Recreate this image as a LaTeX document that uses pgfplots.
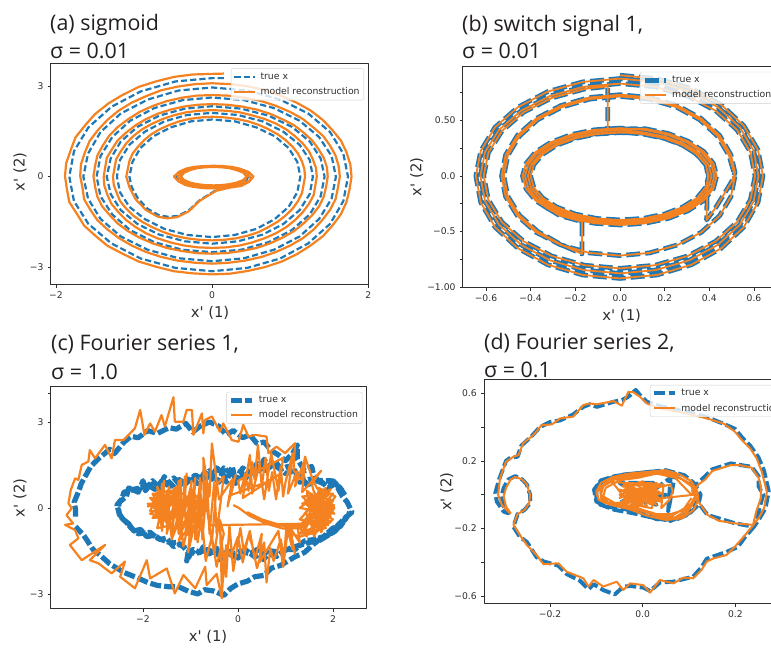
\documentclass[border=0pt]{standalone}
\usepackage{fontspec}
\usepackage{pgfplots}
\usepackage{pgfplotstable}
\pgfplotsset{compat=1.18}
\setmainfont{DejaVu Sans}
\newfontfamily\titlefont{Open Sans}
\newfontfamily\lblfont{DejaVu Sans}
\definecolor{mblue}{HTML}{1F78B6}
\definecolor{morange}{HTML}{F58220}
\definecolor{spine}{HTML}{2E2E2E}
\newcommand{\ttl}[1]{\fontsize{21.4}{24}\titlefont\color[HTML]{231F20}#1}
\newcommand{\lbl}[1]{\fontsize{14.8}{16}\lblfont\color{spine}#1}
\pgfplotsset{
  panel/.style={
    scale only axis, clip=true, axis line style={spine,line width=1pt},
    tick style={spine,line width=.7pt}, tick align=outside,
    major tick length=3.2pt, xtick pos=bottom, ytick pos=left,
    tick label style={font=\fontsize{9.2}{10}\selectfont,text=spine},
    xticklabel style={yshift=-.5pt}, yticklabel style={xshift=-.5pt},
    legend cell align=left,
    legend image code/.code={\draw[##1] (0pt,0pt) -- (21pt,0pt);\path (23pt,0pt);},
    legend style={font=\fontsize{9.3}{10}\selectfont, text=spine, fill=white, fill opacity=0.8, text opacity=1,
      draw=black!18, rounded corners=2pt, inner sep=2.2pt, row sep=2.6pt},
    line join=round,
  },
  ora/.style={morange,line width=2.2pt,line join=round},
}
\pgfplotstableread[row sep=\\]{
x y\\ 0 .905\\ .166 .874\\ .32 .784\\ .453 .64\\ .554 .453\\ .618 .234\\ .64 0\\
.618 -.238\\ .554 -.46\\ .453 -.65\\ .32 -.797\\ .166 -.889\\ 0 -.92\\
-.167 -.889\\ -.323 -.797\\ -.456 -.65\\ -.559 -.46\\ -.623 -.238\\ -.645 0\\
-.623 .226\\ -.559 .438\\ -.456 .619\\ -.323 .758\\ -.167 .845\\ 0 .875\\
.16 .845\\ .31 .758\\ .438 .619\\ .537 .438\\ .599 .226\\ .62 0\\
.599 -.226\\ .537 -.438\\ .438 -.619\\ .31 -.758\\ .16 -.845\\ 0 -.875\\
-.162 -.845\\ -.313 -.758\\ -.442 -.619\\ -.541 -.438\\ -.604 -.226\\ -.625 0\\
-.604 .215\\ -.541 .415\\ -.442 .587\\ -.313 .719\\ -.162 .802\\ 0 .83\\
.157 .802\\ .303 .719\\ .428 .587\\ .524 .415\\ .584 .215\\ .605 0\\
.584 -.215\\ .524 -.415\\ .428 -.587\\ .303 -.719\\ .157 -.802\\ 0 -.83\\
-.158 -.802\\ -.305 -.719\\ -.431 -.587\\ -.528 -.415\\ -.589 -.215\\ -.61 0\\
-.589 .21\\ -.528 .405\\ -.431 .573\\ -.305 .701\\ -.158 .782\\ -.055 .805\\ -.055 .42\\
.112 .425\\ .217 .381\\ .306 .311\\ .375 .22\\ .418 .114\\ .433 0\\
.418 -.114\\ .375 -.22\\ .306 -.311\\ .217 -.381\\ .112 -.425\\ 0 -.44\\
-.113 -.425\\ -.218 -.381\\ -.308 -.311\\ -.378 -.22\\ -.421 -.114\\ -.436 0\\
-.421 .111\\ -.378 .215\\ -.308 .304\\ -.218 .372\\ -.113 .415\\ 0 .43\\
.109 .415\\ .211 .372\\ .298 .304\\ .365 .215\\ .408 .111\\ .422 0\\
.408 -.11\\ .365 -.213\\ .298 -.3\\ .211 -.368\\ .109 -.41\\ 0 -.425\\
-.11 -.41\\ -.213 -.368\\ -.3 -.3\\ -.368 -.213\\ -.41 -.11\\ -.425 0\\
-.41 .107\\ -.368 .208\\ -.3 .293\\ -.213 .359\\ -.11 .401\\ 0 .415\\
.106 .391\\ .205 .351\\ .29 .286\\ .355 .203\\ .396 .105\\ .41 0\\
.396 -.106\\ .355 -.205\\ .29 -.29\\ .205 -.355\\ .106 -.396\\ 0 -.41\\
-.107 -.396\\ -.206 -.355\\ -.291 -.29\\ -.357 -.205\\ -.398 -.106\\ -.412 0\\
-.398 .102\\ -.357 .198\\ -.291 .279\\ -.206 .342\\ -.107 .382\\ 0 .395\\
.103 .377\\ .199 .338\\ .281 .276\\ .345 .195\\ .384 .101\\ .398 0\\
.384 -.102\\ .345 -.198\\ .281 -.279\\ .199 -.342\\ .103 -.382\\ 0 -.395\\
-.104 -.382\\ -.2 -.342\\ -.283 -.279\\ -.346 -.198\\ -.386 -.102\\ -.40 0\\
-.386 .101\\ -.346 .195\\ -.283 .276\\ -.2 .338\\ -.104 .377\\ 0 .39\\
.103 .385\\ .2 .34\\ .28 .28\\ .34 .2\\ .385 .1\\ .395 0\\ .39 -.1\\ .39 -.2\\ .388 -.395\\ .43 -.28\\ .47 -.15\\ .50 -.05\\ .515 .03\\
.497 .189\\ .446 .365\\ .364 .516\\ .258 .632\\ .133 .705\\ 0 .73\\
-.137 .705\\ -.265 .632\\ -.375 .516\\ -.459 .365\\ -.512 .189\\ -.53 0\\
-.512 -.185\\ -.459 -.358\\ -.375 -.506\\ -.265 -.619\\ -.137 -.691\\ 0 -.715\\
.133 -.691\\ .258 -.619\\ .364 -.506\\ .446 -.358\\ .497 -.185\\ .515 0\\
.488 .185\\ .437 .358\\ .357 .506\\ .253 .619\\ .131 .691\\ 0 .715\\
-.135 .691\\ -.26 .619\\ -.368 .506\\ -.45 .358\\ -.502 .185\\ -.52 0\\
-.502 -.183\\ -.45 -.353\\ -.368 -.499\\ -.26 -.62\\ -.17 -.70\\ -.17 -.41\\ -.27 -.355\\ -.34 -.27\\
}\ringdata
\begin{document}
\begin{tikzpicture}[x=1pt,y=1pt]
% ---------- (a)
\begin{axis}[panel, at={(50.7pt,-284.3pt)}, anchor=south west, width=317.6pt, height=221pt,
  xmin=-2.068, xmax=2.0, ymin=-3.563, ymax=3.75,
  xtick={-2,0,2}, xticklabels={−2,0,2}, ytick={-3,0,3}, yticklabels={−3,0,3},
  legend style={at={(0.9865,0.977)},anchor=north east}]
\addplot[mblue,line width=2.2pt,dash pattern=on 6.2pt off 3pt] coordinates {
(.15,3.26)(0,3.26)(-.47,3.15)(-.915,2.82)(-1.29,2.31)(-1.585,1.63)(-1.77,.84)(-1.83,0)
(-1.77,-.81)(-1.585,-1.565)(-1.29,-2.21)(-.915,-2.71)(-.47,-3.02)(0,-3.13)
(.45,-3.02)(.87,-2.71)(1.23,-2.21)(1.51,-1.565)(1.68,-.81)(1.74,0)
(1.68,.76)(1.51,1.475)(1.23,2.09)(.87,2.55)(.45,2.85)(0,2.95)
(-.43,2.85)(-.825,2.55)(-1.17,2.09)(-1.43,1.475)(-1.59,.76)(-1.65,0)
(-1.59,-.725)(-1.43,-1.40)(-1.17,-1.98)(-.825,-2.42)(-.43,-2.70)(0,-2.80)
(.41,-2.70)(.79,-2.42)(1.12,-1.98)(1.37,-1.40)(1.53,-.725)(1.585,0)
(1.53,.68)(1.37,1.31)(1.12,1.85)(.79,2.27)(.41,2.53)(0,2.62)
(-.38,2.53)(-.74,2.27)(-1.05,1.85)(-1.28,1.31)(-1.43,.68)(-1.48,0)
(-1.43,-.65)(-1.28,-1.25)(-1.05,-1.77)(-.74,-2.17)(-.38,-2.42)(0,-2.50)
(.37,-2.42)(.72,-2.17)(1.02,-1.77)(1.25,-1.25)(1.39,-.65)(1.44,0)
(1.39,.60)(1.25,1.165)(1.02,1.65)(.72,2.02)(.37,2.25)(0,2.33)
(-.35,2.25)(-.675,2.02)(-.955,1.65)(-1.17,1.165)(-1.30,.60)(-1.35,0)
(-1.30,-.575)(-1.17,-1.11)(-.955,-1.57)(-.675,-1.92)(-.35,-2.14)(0,-2.22)
(.33,-2.14)(.645,-1.92)(.91,-1.57)(1.12,-1.11)(1.25,-.575)(1.29,0)
(1.25,.55)(1.12,1.055)(.91,1.49)(.645,1.83)(.33,2.04)(0,2.11)
(-.32,2.04)(-.61,1.83)(-.86,1.49)(-1.06,1.055)(-1.18,.55)(-1.22,0)
(-1.18,-.52)(-1.06,-1.0)(-.86,-1.41)(-.61,-1.73)(-.32,-1.93)(0,-2.0)
(.29,-1.93)(.565,-1.73)(.80,-1.41)(.98,-1.0)(1.09,-.52)(1.13,0)
(1.09,.49)(.98,.945)(.80,1.34)(.565,1.63)(.29,1.83)(0,1.89)
(-.27,1.83)(-.53,1.63)(-.75,1.34)(-.92,.945)(-1.02,.49)(-1.06,0)
(-1.03,-.35)(-.95,-.72)(-.83,-1.06)(-.68,-1.28)(-.56,-1.33)(-.44,-1.30)(-.3,-1.12)(-.16,-.78)(.05,-.45)(.23,-.34)
(.35,-.29)(.44,-.12)(.46,0)(.44,.12)(.33,.25)(.16,.32)(0,.33)(-.16,.32)(-.33,.25)(-.44,.12)(-.46,0)(-.44,-.12)(-.33,-.25)(-.16,-.32)(0,-.33)(.16,-.32)(.33,-.25)(.44,-.12)(.46,0)};
\addlegendentry{true x}
\addplot[ora] coordinates {
(.15,3.41)(0,3.40)(-.25,3.38)(-.49,3.30)(-.72,3.15)(-.94,2.97)(-1.15,2.70)(-1.33,2.42)(-1.50,2.07)(-1.62,1.72)(-1.75,1.30)(-1.81,.89)(-1.87,.44)(-1.885,.02)
(-1.86,-.42)(-1.83,-.84)(-1.73,-1.24)(-1.64,-1.62)(-1.49,-1.97)(-1.34,-2.29)(-1.14,-2.56)(-.94,-2.81)(-.72,-2.98)(-.49,-3.13)(-.25,-3.20)(0,-3.235)
(.23,-3.21)(.46,-3.12)(.68,-2.99)(.89,-2.81)(1.09,-2.56)(1.26,-2.28)(1.42,-1.97)(1.54,-1.62)(1.65,-1.24)(1.72,-.84)(1.76,-.42)(1.785,0)
(1.77,.40)(1.72,.81)(1.65,1.19)(1.54,1.54)(1.42,1.87)(1.26,2.19)(1.08,2.45)(.89,2.67)(.68,2.86)(.46,2.99)(.23,3.06)(0,3.09)
(-.22,3.06)(-.44,2.98)(-.65,2.86)(-.84,2.67)(-1.03,2.45)(-1.20,2.18)(-1.34,1.88)(-1.46,1.55)(-1.57,1.18)(-1.63,.80)(-1.68,.41)(-1.69,.02)
(-1.66,-.38)(-1.64,-.75)(-1.56,-1.10)(-1.47,-1.44)(-1.34,-1.75)(-1.19,-2.04)(-1.03,-2.28)(-.85,-2.49)(-.65,-2.66)(-.44,-2.78)(-.22,-2.85)(0,-2.88)
(.21,-2.85)(.42,-2.78)(.63,-2.66)(.82,-2.49)(1.0,-2.28)(1.16,-2.04)(1.30,-1.75)(1.41,-1.44)(1.51,-1.10)(1.58,-.75)(1.61,-.38)(1.635,0)
(1.62,.35)(1.58,.70)(1.51,1.03)(1.42,1.35)(1.29,1.64)(1.16,1.91)(1.0,2.14)(.82,2.34)(.63,2.50)(.42,2.61)(.21,2.68)(0,2.70)
(-.20,2.68)(-.39,2.61)(-.58,2.50)(-.76,2.34)(-.93,2.14)(-1.07,1.91)(-1.21,1.64)(-1.32,1.35)(-1.40,1.03)(-1.47,.70)(-1.50,.35)(-1.52,.02)
(-1.50,-.33)(-1.47,-.66)(-1.41,-.98)(-1.31,-1.28)(-1.21,-1.55)(-1.08,-1.80)(-.93,-2.02)(-.76,-2.21)(-.58,-2.36)(-.39,-2.46)(-.20,-2.53)(0,-2.55)
(.19,-2.53)(.38,-2.46)(.57,-2.36)(.74,-2.21)(.90,-2.02)(1.05,-1.80)(1.17,-1.55)(1.28,-1.28)(1.37,-.98)(1.43,-.66)(1.46,-.33)(1.48,0)
(1.47,.31)(1.43,.62)(1.36,.92)(1.28,1.20)(1.17,1.46)(1.05,1.70)(.90,1.90)(.74,2.08)(.57,2.22)(.38,2.32)(.19,2.38)(0,2.40)
(-.18,2.38)(-.36,2.32)(-.53,2.22)(-.70,2.08)(-.85,1.90)(-.98,1.70)(-1.10,1.46)(-1.21,1.20)(-1.28,.92)(-1.35,.62)(-1.37,.31)(-1.39,0)
(-1.38,-.31)(-1.34,-.61)(-1.29,-.90)(-1.20,-1.18)(-1.10,-1.44)(-.98,-1.67)(-.85,-1.87)(-.70,-2.04)(-.53,-2.18)(-.36,-2.28)(-.18,-2.34)(0,-2.36)
(.18,-2.34)(.35,-2.28)(.51,-2.18)(.67,-2.04)(.82,-1.87)(.95,-1.67)(1.06,-1.44)(1.16,-1.18)(1.24,-.90)(1.30,-.61)(1.32,-.31)(1.34,0)
(1.33,.29)(1.29,.57)(1.24,.84)(1.16,1.10)(1.06,1.34)(.95,1.56)(.82,1.75)(.67,1.91)(.51,2.03)(.35,2.13)(.18,2.18)(0,2.20)
(-.17,2.18)(-.33,2.13)(-.49,2.03)(-.63,1.91)(-.77,1.75)(-.90,1.56)(-1.01,1.34)(-1.10,1.10)(-1.17,.84)(-1.23,.57)(-1.25,.29)(-1.27,0)
(-1.26,-.28)(-1.22,-.55)(-1.18,-.81)(-1.10,-1.06)(-1.01,-1.29)(-.90,-1.49)(-.77,-1.67)(-.63,-1.83)(-.49,-1.95)(-.33,-2.04)(-.17,-2.09)(0,-2.11)
(.16,-2.09)(.31,-2.04)(.46,-1.95)(.60,-1.83)(.72,-1.67)(.84,-1.49)(.94,-1.29)(1.03,-1.06)(1.10,-.81)(1.15,-.55)(1.17,-.28)(1.19,0)
(1.18,.26)(1.15,.51)(1.10,.76)(1.03,.99)(.94,1.21)(.84,1.40)(.72,1.57)(.60,1.71)(.46,1.83)(.31,1.91)(.16,1.96)(0,1.98)
(-.14,1.96)(-.29,1.91)(-.42,1.83)(-.55,1.71)(-.67,1.57)(-.78,1.40)(-.87,1.21)(-.95,.99)(-1.02,.76)(-1.06,.51)(-1.08,.26)(-1.10,0)
(-1.06,-.35)(-.98,-.75)(-.85,-1.1)(-.7,-1.32)(-.58,-1.38)(-.45,-1.34)(-.3,-1.15)(-.16,-.8)(.05,-.47)(.23,-.36)
(.37,-.31)(.47,-.18)(.53,0)(.47,.15)(.36,.26)(.26,.32)(.13,.35)(.02,.36)(-.11,.35)(-.24,.32)(-.34,.26)(-.43,.15)(-.49,0)(-.43,-.16)(-.34,-.28)(-.24,-.34)(-.11,-.38)(.02,-.39)(.15,-.38)(.28,-.34)(.38,-.27)(.47,-.16)
(.50,-.05)(.48,0)(.44,.14)(.34,.25)(.25,.30)(.14,.33)(.02,.34)(-.10,.33)(-.21,.30)(-.31,.25)(-.39,.14)(-.44,0)(-.39,-.13)(-.31,-.23)(-.21,-.29)(-.10,-.33)(.02,-.34)(.14,-.33)(.25,-.29)(.34,-.23)(.42,-.13)
(.44,0)(.40,.13)(.31,.22)(.22,.28)(.12,.31)(.02,.32)(-.09,.31)(-.19,.28)(-.28,.22)(-.36,.13)(-.40,0)(-.36,-.11)(-.28,-.2)(-.19,-.25)(-.09,-.28)(.02,-.29)(.12,-.28)(.22,-.25)(.31,-.2)(.40,-.11)(.44,0)};
\addlegendentry{model reconstruction}
\end{axis}
% ---------- (b)
\begin{axis}[panel, at={(462.7pt,-287.3pt)}, anchor=south west, width=315.3pt, height=221.3pt,
  xmin=-.704, xmax=.7076, ymin=-1.0, ymax=.988,
  xtick={-.6,-.4,-.2,0,.2,.4,.6}, xticklabels={−0.6,−0.4,−0.2,0.0,0.2,0.4,0.6},
  ytick={-1,-.75,-.5,-.25,0,.25,.5,.75}, yticklabels={−1.00,,−0.5,,0.0,,0.50,},
  legend style={at={(0.5623,0.974)},anchor=north west}]
\addplot[mblue,line width=4.8pt,dash pattern=on 14pt off 5pt] table[x=x,y=y]{\ringdata};
\addlegendentry{true x}
\addplot[morange,line width=1.8pt,line join=round] table[x=x,y=y]{\ringdata};
\addlegendentry{model reconstruction}
\end{axis}
% ---------- (c)
\begin{axis}[panel, at={(50.7pt,-608.3pt)}, anchor=south west, width=316pt, height=221.6pt,
  xmin=-3.943, xmax=2.709, ymin=-3.5, ymax=4.23,
  xtick={-2,0,2}, xticklabels={−2,0,2}, ytick={-3,0,3,4}, yticklabels={−3,0,3,},
  legend style={at={(0.9865,0.977)},anchor=north east}]
\addplot[mblue,line width=5.2pt,dash pattern=on 11pt off 2.5pt,forget plot] coordinates {
(2.25,.45)(2.15,.7)(2.0,.95)(1.8,.85)(1.66,.95)(1.45,.8)(1.35,1.1)(1.16,1.15)(1.05,1.45)(.9,1.35)(.8,1.6)(.65,1.4)(.55,1.7)(.45,1.3)(.3,1.45)(.15,1.0)(.05,1.3)(-.05,.85)(-.12,1.45)(-.25,.9)(-.32,1.2)(-.45,1.4)(-.55,1.0)(-.7,1.25)(-.85,.85)(-1.0,1.1)(-1.2,.75)(-1.35,1.05)(-1.5,.8)(-1.55,1.1)(-1.65,.7)(-1.8,.95)(-1.95,.6)(-2.0,.95)(-2.1,.55)(-2.3,.7)(-2.35,.4)(-2.5,.2)(-2.52,0)(-2.5,-.2)
(-2.42,-.4)(-2.3,-.55)(-2.2,-.8)(-2.05,-.75)(-1.92,-1.0)(-1.75,-.95)(-1.64,-1.1)(-1.5,-1.05)(-1.36,-1.35)(-1.2,-1.25)(-1.05,-1.55)(-1.08,-1.85)(-.95,-1.45)(-.8,-1.55)(-.73,-1.35)(-.6,-1.6)(-.45,-1.4)(-.38,-1.8)(-.25,-1.5)(-.1,-1.7)(.05,-1.5)(.25,-1.6)(.4,-1.45)(.53,-1.8)(.7,-1.5)(.9,-1.55)(1.1,-1.4)(1.3,-1.3)(1.5,-1.2)(1.7,-1.15)(1.9,-.95)(2.05,-.8)(2.2,-.5)(2.35,-.15)};
\addplot[mblue,line width=5.2pt,dash pattern=on 9pt off 2pt,forget plot] coordinates {
(2.2,.6)(2.05,.85)(1.9,.7)(1.7,1.0)(1.5,1.0)(1.3,.9)(1.2,1.3)(1.0,1.2)(.85,1.4)(.7,1.55)(.6,1.3)(.4,1.55)(.25,1.15)(.1,1.4)(0,1.0)(-.15,1.2)(-.3,1.4)(-.4,.9)(-.6,1.3)(-.75,1.0)(-.9,1.15)(-1.1,.85)(-1.25,1.0)(-1.4,.75)(-1.6,.95)(-1.75,.65)(-1.9,.8)(-2.05,.7)(-2.2,.65)(-2.4,.55)(-2.45,.3)(-2.55,.1)
(-2.48,-.3)(-2.35,-.5)(-2.25,-.7)(-2.1,-.9)(-1.85,-.85)(-1.7,-1.05)(-1.45,-1.2)(-1.3,-1.2)(-1.1,-1.4)(-.9,-1.6)(-.65,-1.45)(-.5,-1.55)(-.3,-1.7)(-.15,-1.5)(0,-1.75)(.15,-1.45)(.35,-1.7)(.6,-1.55)(.8,-1.7)(1.0,-1.45)(1.2,-1.45)(1.4,-1.15)(1.6,-1.1)(1.8,-1.0)(2.0,-.7)(2.15,-.65)(2.3,-.3)};
\addplot[mblue,line width=5.2pt,dash pattern=on 11pt off 3pt] coordinates {
(-3.42,-.3)(-3.42,-.05)(-3.45,.2)(-3.35,.6)(-3.3,.85)(-3.1,1.45)(-2.95,1.7)(-2.7,2.05)(-2.6,1.9)(-2.4,2.3)(-2.25,2.5)(-2.1,2.45)(-1.9,2.7)(-1.7,2.6)(-1.45,2.8)(-1.3,2.75)(-1.1,2.95)(-.95,2.65)(-.8,2.85)(-.6,3.0)(-.4,2.85)(-.25,2.55)(-.1,2.7)(.1,2.45)(.25,2.55)(.4,2.25)(.55,2.3)(.7,2.0)(.85,1.85)(1.0,1.65)(1.15,1.9)(1.25,2.2)(1.25,1.7)(1.4,1.3)(1.55,1.45)(1.6,1.1)(1.7,.95)(1.95,.95)(2.1,.7)(2.2,.4)(2.3,.2)(2.4,-.15)(2.25,-.35)(2.1,-.6)(2.0,-.85)(1.75,-1.05)(1.6,-1.25)(1.4,-1.55)(1.2,-1.7)(1.05,-1.85)(.9,-2.0)(.7,-2.1)(.55,-2.35)(.35,-2.4)(.2,-2.55)(0,-2.65)(-.15,-2.8)(-.3,-3.05)(-.5,-2.9)(-.7,-2.85)(-.85,-3.0)(-1.05,-2.9)(-1.25,-2.75)(-1.45,-2.75)(-1.7,-2.7)(-1.9,-2.6)(-2.1,-2.45)(-2.4,-2.25)(-2.7,-1.95)(-2.9,-1.65)(-3.05,-1.45)(-3.25,-.95)(-3.42,-.65)};
\addlegendentry{true x}
\addplot[morange,line width=2.2pt,line join=round] coordinates {
(-.1,.1)(0,.02)(.25,-.28)(.6,-.55)(.95,-.72)(1.3,-.7)(1.45,-.6)(1.1,-.62)(.8,-.55)(.5,-.4)(.2,-.15)(.3,-.25)(.7,-.55)(1.1,-.66)(1.4,-.55)(1.65,-.3)
(1.9,.3)(1.3,-.6)(1.95,-.3)(1.4,.3)(2.0,0)(1.5,-.8)(2.05,.4)(1.7,.7)(1.6,-.9)(2.0,-.4)(1.45,.1)(1.85,.6)(1.3,-.4)(1.9,-.6)(1.55,.5)(1.75,-.85)(2.02,.1)(1.35,.15)(1.95,.65)(1.5,-.5)(1.8,.2)(1.6,-.2)(1.95,-.1)(1.45,.45)(1.7,-.6)(1.85,-.2)(1.55,.05)(1.9,.45)(1.65,.35)(1.8,-.45)(1.4,-.2)(1.75,.5)(1.6,-.7)(2.0,.25)(1.7,.1)(1.5,.3)(1.85,-.7)
(1.3,-.9)(2.0,.5)(1.35,.4)(1.95,-.5)(1.4,-.8)(1.85,.7)(1.3,0)(2.03,-.2)(1.45,.6)(1.6,-1.0)(1.95,.3)(1.5,-.3)(1.9,.1)(1.4,-.45)(1.8,.55)(1.7,-.5)(2.0,-.15)(1.6,.55)
(1.55,.85)(1.75,1.3)(1.35,.55)(1.42,1.75)(1.2,.75)(1.25,1.3)(1.05,.5)(1.15,1.9)(1.0,.9)(.95,.4)(.9,1.45)(.8,.3)(.72,1.25)(.65,.6)(.58,1.75)(.5,.75)(.42,2.2)(.35,1.0)(.3,1.6)(.22,.6)(.15,1.2)(.05,.5)(0,.95)
(.95,1.75)(.85,.6)(.7,1.9)(.55,.3)(.45,1.5)(.3,.5)(.25,1.85)(.1,.35)(.9,1.2)(.6,.9)(-.15,.45)(-.05,1.15)(-.22,.05)
(-.12,1.0)(-.4,.3)(-.55,2.25)(-.6,.4)(-.73,1.75)(-.72,-.3)(-.65,1.2)(-.82,-.7)(-.78,.9)(-.95,-.5)(-.9,1.05)(-1.05,-.95)(-1.0,.7)(-1.15,-.3)(-1.08,1.2)(-1.22,-.8)(-1.2,1.0)(-1.3,-.2)(-1.28,.6)(-1.15,-1.35)(-.95,.2)(-.85,-1.2)(-.7,.5)(-.55,-1.2)(-.45,.8)
(-.3,1.1)(-.45,-.9)(-.5,.9)(-.6,-.9)(-.65,.9)(-.75,-1.1)(-.8,1.05)(-.88,-1.0)(-.92,.8)(-1.0,-1.2)(-.98,.95)(-1.1,-.9)(-1.12,1.1)(-1.18,-.5)(-1.25,.95)(-1.3,-.7)(-1.2,.3)(-1.1,-.3)(-1.35,.7)
(-.65,-.1)(-.95,.55)(-1.25,-.5)(-1.05,.3)(-1.4,-1.1)(-1.3,.5)(-1.5,-.9)(-1.45,.75)(-1.62,-.6)(-1.55,.95)(-1.75,-.3)(-1.4,.2)(-1.85,.35)(-1.5,-.3)(-1.8,-.35)(-1.35,.45)(-1.9,.05)(-1.55,.45)(-1.7,-.7)(-1.4,-.6)(-1.65,.6)(-1.85,-.1)(-1.45,-.15)(-1.7,.2)(-1.3,-.3)(-1.6,-.45)(-1.25,.65)(-1.75,.5)(-1.55,.1)(-1.35,-.85)(-1.2,.1)
(-1.9,.15)(-1.4,-.4)(-1.85,-.2)(-1.3,.35)(-1.8,.5)(-1.45,-.7)(-1.6,.85)(-1.65,-.5)(-1.75,.1)(-1.35,.6)(-1.5,-.15)(-1.7,.75)(-1.6,-.8)(-1.5,.6)(-1.4,-1.0)(-1.3,.75)(-1.25,-.9)
(-1.1,-.4)(-1.25,-1.15)(-1.0,-.6)(-1.05,-1.55)(-.9,-.45)(-.9,-1.1)(-.75,-.55)(-.68,-1.85)(-.55,-1.0)(-.45,-2.05)(-.3,-.9)(-.38,-.42)(-.34,-2.9)(-.25,-1.3)(-.15,-1.7)(0,-1.0)(.1,-1.9)(.22,-.95)(.3,-1.3)(.4,-2.1)(.55,-1.2)(.6,-2.6)(.68,-1.4)(.75,-1.85)(.9,-1.1)(.97,-1.75)(1.02,-.6)(1.15,-1.45)(1.1,-.7)(1.3,-1.2)(1.25,-.6)(1.45,-1.0)(1.4,-.55)
(-.6,-.6)(-.5,-1.6)(-.4,-.5)(-.25,-2.4)(-.18,-.6)(-.1,-2.2)(.05,-.7)(.12,-1.5)(.25,-.8)(.35,-1.8)(.5,-.9)(.45,-1.9)(.85,-.8)(.95,-2.05)(1.05,-.75)(1.2,-1.6)(1.12,-.9)(1.3,-1.0)(1.65,-.85)(1.5,-.5)
(1.8,-.5)(2.03,0)(1.85,.35)(1.65,.72)(1.55,1.1)(1.41,1.79)(1.34,.98)(1.17,1.32)(1.2,2.26)(.99,1.91)(.81,2.14)(.64,1.91)(.6,2.49)(.36,2.55)(.22,2.49)(.11,2.9)(.01,2.31)(-.13,2.37)(-.31,2.95)(-.38,2.66)(-.55,3.19)(-.695,3.07)(-.73,2.6)(-.76,3.3)(-.94,2.55)(-.97,3.42)(-1.08,3.42)(-1.15,3.01)(-1.33,3.01)(-1.36,3.86)(-1.54,2.84)(-1.61,3.24)(-1.75,2.66)(-1.85,2.95)(-1.97,2.55)(-2.06,3.42)(-2.17,2.78)(-2.41,2.37)(-2.59,2.37)(-2.66,1.73)(-2.80,2.2)(-3.01,1.73)(-3.12,2.02)(-3.15,1.62)(-3.29,1.5)(-3.36,.98)(-3.43,1.03)(-3.52,.63)(-3.57,.16)(-3.50,-.01)(-3.61,-.25)(-3.47,-.54)(-3.64,-.59)(-3.43,-.77)(-3.36,-1.06)(-3.54,-1.29)(-3.29,-1.82)(-2.80,-1.29)(-3.12,-1.82)(-2.94,-1.93)(-2.66,-2.28)(-2.38,-1.87)(-2.48,-2.4)(-2.17,-2.8)(-1.92,-1.82)(-1.85,-2.46)(-1.5,-2.11)(-1.33,-2.98)(-1.15,-2.34)(-.9,-2.8)(-.69,-2.05)(-.66,-2.69)(-.45,-2.3)(-.34,-3.15)(-.3,-1.75)};
\addlegendentry{model reconstruction}
\end{axis}
% ---------- (d)
\begin{axis}[panel, at={(484pt,-603.3pt)}, anchor=south west, width=294pt, height=224pt,
  xmin=-.3425, xmax=.292, ymin=-.643, ymax=.683,
  xtick={-.2,0,.2}, xticklabels={−0.2,0.0,0.2},
  ytick={-.6,-.4,-.2,0,.2,.4,.6}, yticklabels={−0.6,,−0.2,,0.2,,0.6},
  legend style={at={(0.5646,0.9746)},anchor=north west}]
\addplot[mblue,line width=4pt,dash pattern=on 11pt off 3.5pt] coordinates {
(-.04,.02)(.03,-.06)(-.05,.07)(.03,.07)(-.05,-.05)(.05,0)(-.03,-.08)(.06,.10)(.055,-.1)(.07,.125)(.03,.14)(-.02,.125)(-.06,.11)(-.09,.085)(-.105,.03)(-.10,-.04)(-.08,-.07)(-.05,-.08)(-.01,-.10)(.03,-.145)(.07,-.15)(.10,-.115)(.12,-.06)(.125,0)(.11,.07)(.09,.115)(.05,.145)(0,.13)(-.04,.12)(-.08,.09)(-.10,.05)
(-.1,-.05)(-.06,-.09)(-.02,-.11)(.02,-.135)(.06,-.155)(.1,-.11)(.115,-.03)(.14,-.12)(.2,-.17)(.24,-.19)(.221,-.25)(.205,-.31)(.18,-.34)(.153,-.365)(.138,-.38)(.127,-.43)(.109,-.485)(.088,-.5)(.066,-.515)(.037,-.52)(.016,-.57)(.001,-.55)(-.027,-.54)(-.042,-.545)(-.06,-.59)(-.085,-.565)(-.106,-.53)(-.117,-.56)(-.135,-.51)(-.164,-.47)(-.182,-.42)(-.214,-.395)(-.229,-.37)(-.25,-.28)(-.265,-.25)(-.279,-.19)(-.27,-.115)(-.255,-.09)(-.243,-.05)(-.243,0)(-.25,.06)(-.26,.09)(-.275,.11)(-.29,.09)(-.30,.04)(-.305,-.01)(-.30,-.07)(-.29,-.11)(-.30,-.10)(-.315,-.04)(-.318,.01)(-.31,.09)(-.295,.2)(-.285,.22)(-.27,.225)(-.262,.29)(-.24,.345)(-.222,.40)(-.2,.43)(-.178,.44)(-.15,.475)(-.128,.52)(-.114,.535)(-.099,.52)(-.063,.55)(-.045,.56)(-.031,.58)(-.015,.62)(-.006,.59)(.009,.55)(.037,.525)(.095,.49)(.138,.46)(.174,.42)(.199,.39)(.214,.34)(.232,.29)(.25,.22)(.262,.14)(.272,.02)(.265,-.08)(.25,-.15)(.24,-.19)(.25,-.1)(.26,0)(.25,.05)(.25,.11)(.235,.165)(.19,.185)(.15,.15)(.12,.07)(.105,0)};
\addlegendentry{true x}
\addplot[morange,line width=2pt,line join=round] coordinates {
(-.02,.01)(.03,-.06)(-.04,.06)(.02,.07)(-.045,-.04)(.035,.02)(-.03,-.07)(.03,.06)(-.05,0)(.01,-.075)(-.01,.075)(.04,-.03)(-.05,.03)(.02,-.06)(-.03,.07)(.035,.05)(-.04,-.05)(.03,-.02)(-.02,.07)(-.05,-.02)(.03,.07)(.02,-.08)(-.02,-.06)(.04,.01)(-.045,.05)(.01,.06)(-.01,-.07)(.03,.04)(-.04,-.02)(.04,-.04)(0,.08)
(-.04,.03)(.03,.03)(-.04,-.03)(.03,-.04)(-.02,.04)(.02,0)(-.03,0)(.02,.05)(0,-.05)(-.02,-.03)(.01,.03)
(.06,.06)(.065,.02)(.058,-.03)(.04,-.08)(.045,.06)
(-.04,.07)(-.07,.075)(-.09,.05)(-.1,.01)(-.095,-.03)(-.08,-.05)(-.05,-.055)(-.03,-.05)(-.07,.09)(-.04,.105)(0,.115)(.04,.125)(.07,.11)(.09,.085)(.105,.05)(.115,0)(.105,-.05)(.09,-.09)(.06,-.115)(.03,-.115)(0,-.09)(-.03,-.065)(-.06,-.05)
(.112,0)(.105,.05)(.085,.09)(.06,.12)(.02,.135)(-.02,.115)(-.055,.10)(-.08,.07)(-.092,.03)(-.09,-.02)(-.08,-.05)(-.05,-.06)(-.02,-.075)(.01,-.10)(.04,-.13)(.07,-.135)(.095,-.09)(.11,-.04)
(.118,.02)(.105,.08)(.08,.12)(.05,.145)(.01,.135)(-.03,.125)(-.065,.105)(-.09,.07)(-.1,.02)(-.095,-.03)(-.07,-.06)(-.03,-.085)(.01,-.125)(.05,-.15)(.085,-.14)(.11,-.09)(.12,-.03)
(.118,.02)(.10,.07)(.07,.115)(.04,.14)(0,.12)(-.03,.10)(-.06,.09)(-.085,.05)(-.09,0)(-.075,-.045)(-.045,-.065)(-.01,-.09)(.025,-.12)(.06,-.145)(.09,-.12)(.105,-.07)(.115,-.02)
(.14,-.12)(.165,-.155)(.2,-.17)(.239,-.179)(.221,-.239)(.199,-.308)(.181,-.357)(.153,-.377)(.138,-.396)(.127,-.446)(.109,-.495)(.088,-.491)(.066,-.525)(.037,-.505)(.016,-.58)(.001,-.535)(-.027,-.525)(-.042,-.564)(-.056,-.515)(-.085,-.544)(-.106,-.505)(-.117,-.544)(-.128,-.495)(-.164,-.456)(-.182,-.406)(-.214,-.412)(-.229,-.357)(-.25,-.298)(-.265,-.239)(-.279,-.179)
(-.27,-.115)(-.255,-.09)(-.245,-.05)(-.243,0)(-.25,.06)(-.26,.09)(-.275,.105)(-.285,.09)(-.295,.04)(-.30,-.01)(-.295,-.07)(-.285,-.11)(-.29,-.1)(-.304,-.061)
(-.312,0)(-.308,.097)(-.295,.195)(-.279,.225)(-.268,.235)(-.258,.304)(-.236,.353)(-.218,.412)(-.196,.416)(-.178,.452)(-.15,.462)(-.128,.531)(-.114,.54)(-.099,.535)(-.063,.554)(-.045,.527)(-.031,.609)(-.02,.606)(-.006,.58)(.009,.54)(.037,.511)(.095,.481)(.138,.452)(.174,.422)(.199,.373)(.214,.323)(.232,.274)(.246,.215)(.257,.136)(.268,.018)(.262,-.08)(.25,-.14)(.238,-.18)(.245,-.1)(.255,-.02)
(.255,.05)(.25,.10)(.235,.16)(.21,.175)(.19,.175)(.15,.14)(.135,.09)(.12,.06)(.105,0)(.07,.10)(.03,.125)(-.01,.10)(-.05,.085)(-.08,.04)(-.085,-.01)(-.06,-.05)(-.02,-.07)(.02,-.11)(.06,-.13)(.09,-.08)(.105,-.02)};
\addlegendentry{model reconstruction}
\end{axis}
% ---------- texts
\node[anchor=base west,inner sep=0pt] at (50pt,-30pt) {\ttl{(a) sigmoid}};
\node[anchor=base west,inner sep=0pt] at (50pt,-58pt) {\ttl{σ = 0.01}};
\node[anchor=base west,inner sep=0pt] at (462pt,-31pt) {\ttl{(b) switch signal 1,}};
\node[anchor=base west,inner sep=0pt] at (462pt,-58pt) {\ttl{σ = 0.01}};
\node[anchor=base west,inner sep=0pt] at (51pt,-350pt) {\ttl{(c) Fourier series 1,}};
\node[anchor=base west,inner sep=0pt] at (51pt,-379pt) {\ttl{σ = 1.0}};
\node[anchor=base west,inner sep=0pt] at (484pt,-349pt) {\ttl{(d) Fourier series 2,}};
\node[anchor=base west,inner sep=0pt] at (484pt,-377pt) {\ttl{σ = 0.1}};
\node at (210pt,-313pt) {\lbl{x' (1)}};
\node[rotate=90] at (20pt,-172pt) {\lbl{x' (2)}};
\node at (621.7pt,-316pt) {\lbl{x' (1)}};
\node[rotate=90] at (416.7pt,-177pt) {\lbl{x' (2)}};
\node at (208pt,-637pt) {\lbl{x' (1)}};
\node[rotate=90] at (20pt,-498pt) {\lbl{x' (2)}};
\node[rotate=90] at (446.7pt,-491.7pt) {\lbl{x' (2)}};
\pgfresetboundingbox
\path[use as bounding box] (0pt,0pt) rectangle (771pt,-649pt);
\end{tikzpicture}
\end{document}
